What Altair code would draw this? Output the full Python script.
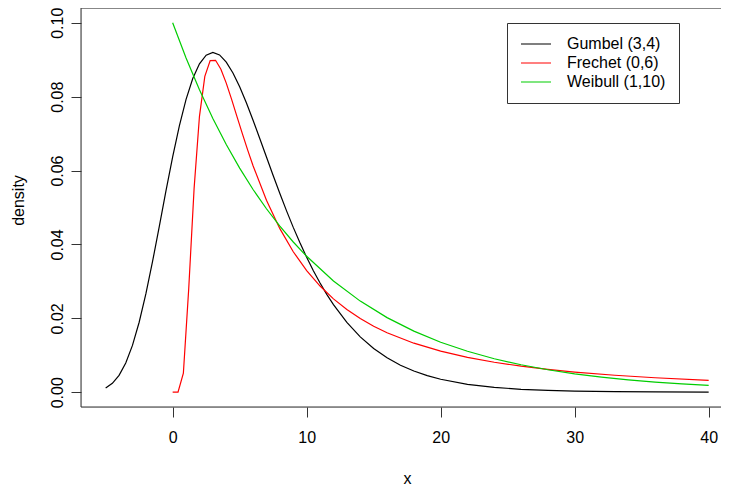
import altair as alt
import pandas as pd

# Gumbel (3,4) density
gumbel_x = [-5, -4.5, -4, -3.5, -3, -2.5, -2, -1.5, -1, -0.5, 0, 0.5, 1, 1.5, 2, 2.5, 3,
            3.5, 4, 4.5, 5, 5.5, 6, 6.5, 7, 7.5, 8, 8.5, 9, 9.5, 10, 10.5, 11, 11.5, 12,
            13, 14, 15, 16, 17, 18, 19, 20, 22, 24, 26, 28, 30, 33, 36, 40]
gumbel_y = [0.00114, 0.00240, 0.00456, 0.00791, 0.01268, 0.01894, 0.02661, 0.03539,
            0.04484, 0.05447, 0.06373, 0.07212, 0.07926, 0.08490, 0.08889, 0.09123,
            0.09197, 0.09129, 0.08936, 0.08642, 0.08267, 0.07835, 0.07363, 0.06869,
            0.06366, 0.05866, 0.05378, 0.04909, 0.04462, 0.04043, 0.03651, 0.03289,
            0.02955, 0.02649, 0.02371, 0.01890, 0.01499, 0.01184, 0.00933, 0.00732,
            0.00574, 0.00450, 0.00352, 0.00214, 0.00131, 0.00079, 0.00048, 0.00029,
            0.00014, 0.00007, 0.00002]

# Frechet (0,6) density
frechet_x = [0, 0.4, 0.8, 1.2, 1.6, 2.0, 2.4, 2.8, 3.2, 3.6, 4.0, 4.4, 4.8, 5.2, 5.6, 6,
             7, 8, 9, 10, 11, 12, 13, 14, 15, 16, 18, 20, 22, 24, 26, 28, 30, 33, 36, 40]
frechet_y = [0.0, 0.00001, 0.00519, 0.02807, 0.05512, 0.07468, 0.08550, 0.08978,
             0.08985, 0.08744, 0.08367, 0.07925, 0.07461, 0.06999, 0.06553, 0.06131,
             0.05196, 0.04428, 0.03803, 0.03293, 0.02874, 0.02527, 0.02238, 0.01994,
             0.01788, 0.01611, 0.01327, 0.01111, 0.00944, 0.00811, 0.00705, 0.00618,
             0.00546, 0.00459, 0.00392, 0.00323]

# Weibull (1,10) density
weibull_x = [0, 1, 2, 3, 4, 5, 6, 7, 8, 9, 10, 12, 14, 16, 18, 20, 22, 24, 26, 28, 30,
             32, 34, 36, 38, 40]
weibull_y = [0.1, 0.09048, 0.08187, 0.07408, 0.06703, 0.06065, 0.05488, 0.04966,
             0.04493, 0.04066, 0.03679, 0.03012, 0.02466, 0.02019, 0.01653, 0.01353,
             0.01108, 0.00907, 0.00743, 0.00608, 0.00498, 0.00408, 0.00334, 0.00273,
             0.00224, 0.00183]

series_names = ["Gumbel (3,4)", "Frechet (0,6)", "Weibull (1,10)"]
series_colors = ["#000000", "#FF0000", "#00CD00"]

x_ticks = [0, 10, 20, 30, 40]
y_ticks = [0.0, 0.02, 0.04, 0.06, 0.08, 0.10]

rows = []
for i, (xs, ys) in enumerate([(gumbel_x, gumbel_y), (frechet_x, frechet_y), (weibull_x, weibull_y)]):
    for j, (a, b) in enumerate(zip(xs, ys)):
        rows.append({"x": a, "y": b, "series": series_names[i], "order": j})
df = pd.DataFrame(rows)

FONT = "Liberation Sans"
W, H = 640, 399
BOX = "#333333"

lines = alt.Chart(df).mark_line(strokeWidth=1.2, clip=True).encode(
    x=alt.X("x:Q", scale=alt.Scale(domain=[-6.84, 40.92], nice=False, zero=False),
            axis=alt.Axis(values=x_ticks, title="x", grid=False, tickSize=10,
                          labelPadding=12, labelFontSize=16, labelFont=FONT,
                          titleFont=FONT, titleFontSize=16, titleFontWeight="normal",
                          titleX=326, titleAlign="center",
                          titleY=71, titleBaseline="middle", domain=False,
                          tickColor=BOX, labelColor="#000000", titleColor="#000000")),
    y=alt.Y("y:Q", scale=alt.Scale(domain=[-0.004, 0.104], nice=False, zero=False),
            axis=alt.Axis(values=y_ticks, format=".2f", title="density", grid=False,
                          tickSize=10, labelAngle=270, labelAlign="center",
                          labelBaseline="bottom", labelPadding=6, labelFontSize=16,
                          labelFont=FONT, titleFont=FONT, titleFontSize=16,
                          titleFontWeight="normal", titleAngle=270, titleX=-63,
                          titleY=192, titleBaseline="middle", titleAlign="center",
                          domain=False, tickColor=BOX, labelColor="#000000",
                          titleColor="#000000")),
    color=alt.Color("series:N", scale=alt.Scale(domain=series_names, range=series_colors),
                    legend=alt.Legend(title=None, orient="none", legendX=426, legendY=15,
                                      symbolType="stroke", symbolSize=900,
                                      symbolStrokeWidth=1.2, clipHeight=16, rowPadding=3,
                                      labelFontSize=16, labelFont=FONT, labelOffset=15,
                                      padding=13, strokeColor=BOX, fillColor="white",
                                      labelColor="#000000")),
    order="order:Q",
)

# plot frame (left, top, bottom; the right side lies beyond the picture)
frame_top = alt.Chart().mark_rule(color=BOX, strokeWidth=1).encode(
    x=alt.value(0), x2=alt.value(W), y=alt.value(0))
frame_bottom = alt.Chart().mark_rule(color=BOX, strokeWidth=1).encode(
    x=alt.value(0), x2=alt.value(W), y=alt.value(H))
frame_left = alt.Chart().mark_rule(color=BOX, strokeWidth=1).encode(
    x=alt.value(0), y=alt.value(0), y2=alt.value(H))

chart = alt.layer(lines, frame_top, frame_bottom, frame_left).properties(
    width=W, height=H,
    autosize=alt.AutoSizeParams(type="none"),
    padding={"left": 73, "top": 0, "right": 0, "bottom": 78},
).configure_view(strokeWidth=0).configure(background="white")

chart.save("out.html", embed_options={"renderer": "svg", "actions": False})
